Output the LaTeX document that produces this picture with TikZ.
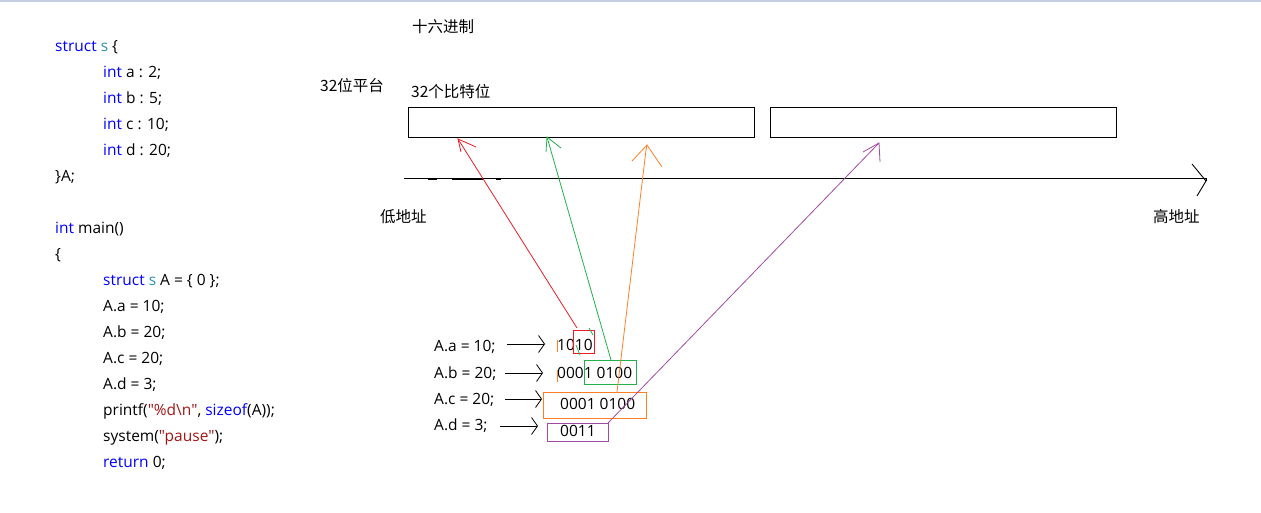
\documentclass[tikz,border=0pt]{standalone}
\usepackage{fontspec}
\setmainfont{Open Sans}[Ligatures=TeXOff]
\newfontfamily\cjk{Noto Sans CJK SC}
\usetikzlibrary{arrows.meta}
\definecolor{kw}{RGB}{0,0,255}
\definecolor{ty}{RGB}{43,145,175}
\definecolor{st}{RGB}{163,21,21}
\definecolor{topbar}{RGB}{196,206,224}
\definecolor{cred}{RGB}{237,28,36}
\definecolor{cgreen}{RGB}{34,177,76}
\definecolor{corange}{RGB}{255,127,39}
\definecolor{cpurple}{RGB}{163,73,164}
\newcommand{\kw}[1]{\textcolor{kw}{#1}}
\newcommand{\ty}[1]{\textcolor{ty}{#1}}
\newcommand{\st}[1]{\textcolor{st}{#1}}
\newcommand{\dq}{\symbol{34}}
\begin{document}
\begin{tikzpicture}[x=1pt,y=-1pt,
  txt/.style={inner sep=0pt, anchor=west, font=\fontsize{15.5}{18}\selectfont, text height=14pt, text depth=3pt},
  cjktxt/.style={txt, font=\cjk\fontsize{15.5}{18}\selectfont},
  membox/.style={draw, line width=1pt, minimum width=346pt, minimum height=30pt, inner sep=0pt},
  valbox/.style={draw, line width=0.8pt, inner sep=0pt},
  codearrow/.style={line width=0.8pt, -{Straight Barb[length=6pt,width=17pt,line width=0.8pt]}},
  hand/.style={line width=0.8pt}]
\useasboundingbox (0,0) rectangle (1261,513);
\fill[topbar] (0,0) rectangle (1261,2.5);

% code
\node[txt] (c1) at (55,46) {\kw{struct} \ty{s} \{};
\node[txt] (c2) at (103,72) {\kw{int} a : 2;};
\node[txt] (c3) at (103,98) {\kw{int} b : 5;};
\node[txt] (c4) at (103,124) {\kw{int} c : 10;};
\node[txt] (c5) at (103,150) {\kw{int} d : 20;};
\node[txt] (c6) at (55,176) {\}A;};
\node[txt] (c7) at (55,228) {\kw{int} main()};
\node[txt] (c8) at (55,254) {\{};
\node[txt] (c9) at (103,280) {\kw{struct} \ty{s} A = \{ 0 \};};
\node[txt] (c10) at (103,306) {A.a = 10;};
\node[txt] (c11) at (103,332) {A.b = 20;};
\node[txt] (c12) at (103,358) {A.c = 20;};
\node[txt] (c13) at (103,384) {A.d = 3;};
\node[txt] (c14) at (103,410) {printf(\st{\dq\%d\textbackslash n\dq}, \kw{sizeof}(A));};
\node[txt] (c15) at (103,436) {system(\st{\dq pause\dq});};
\node[txt] (c16) at (103,462) {\kw{return} 0;};

% labels
\node[cjktxt] (hex) at (412,27) {十六进制};
\node[cjktxt] (plat) at (320,86) {32位平台};
\node[cjktxt] (bits) at (411,92) {32个比特位};
\node[cjktxt] (low) at (380,217) {低地址};
\node[cjktxt] (high) at (1153,217) {高地址};

% memory boxes
\node[membox] (m1) at (581.5,123) {};
\node[membox] (m2) at (943.5,123) {};

% address axis
\coordinate (ax0) at (404,179);
\coordinate (ax1) at (1206,181);
\draw[line width=1pt] (ax0) -- (ax1 |- ax0) -- (ax1);
\draw[line width=0.9pt] (1192,164) -- (ax1) -- (1197,196);
\draw[line width=2pt] (428,179.5) -- (437,179.5);
\draw[line width=2pt] (452,179.5) -- (483,179.5);
\draw[line width=2pt] (496,179.5) -- (501,179.5);

% assignments
\node[txt] (la) at (434,346) {A.a = 10;};
\node[txt] (lb) at (434,373) {A.b = 20;};
\node[txt] (lc) at (434,399) {A.c = 20;};
\node[txt] (ld) at (434,425) {A.d = 3;};
\node[txt] (va) at (557,345) {1010};
\node[txt] (vb) at (557,373) {0001 0100};
\node[txt] (vc) at (560,404) {0001 0100};
\node[txt] (vd) at (560,431) {0011};

\draw[codearrow] (507,344) -- (545,344);
\draw[codearrow] (505,373) -- (543,373);
\draw[codearrow] (505,399) -- (542,399);
\draw[codearrow] (500,426) -- (538,426);

% coloured boxes
\draw[valbox, cred] (573,330) rectangle (594,353);
\draw[valbox, cgreen] (584,360) rectangle (636,384);
\draw[valbox, corange] (543,392) rectangle (646,418);
\draw[valbox, cpurple] (547,423) rectangle (608,441);
\draw[corange, line width=1pt] (557,340) -- (557,352);
\draw[corange, line width=1pt] (557,370) -- (557,382);

% connectors
\coordinate (rs) at (577,328);
\coordinate (rt) at (458,139);
\draw[hand, cred] (rs) -- (rt);
\draw[hand, cred] (476,147) -- (rt) -- (461,152);

\coordinate (gs) at (611,360);
\coordinate (gt) at (547,137);
\draw[hand, cgreen] (gs) -- (gt);
\draw[hand, cgreen] (561,148) -- (gt) -- (546,152);
\draw[hand, cgreen] (589,328) -- (593,335);
\draw[hand, cgreen] (576,345) -- (580,355);

\coordinate (os) at (617,392);
\coordinate (ot) at (647,145);
\draw[hand, corange] (os) -- (646,150) -- (ot);
\draw[hand, corange] (632,161) -- (ot) -- (662,167);

\coordinate (ps) at (608,423);
\coordinate (pt) at (879,143);
\draw[hand, cpurple] (ps) -- (pt);
\draw[hand, cpurple] (863,152) -- (pt) -- (880,162);
\end{tikzpicture}
\end{document}
